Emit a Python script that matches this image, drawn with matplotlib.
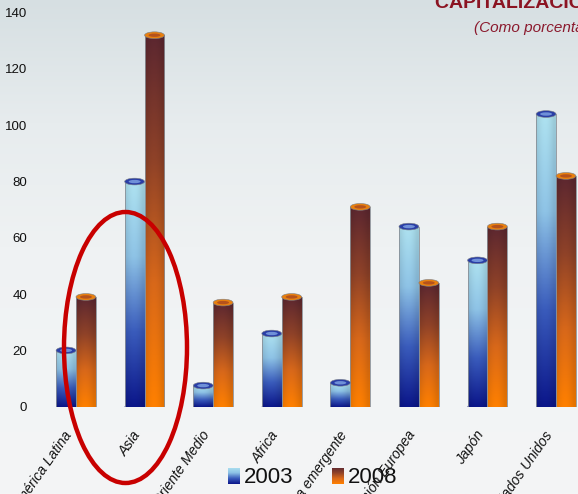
import numpy as np
import matplotlib
matplotlib.use("Agg")
import matplotlib.pyplot as plt
from matplotlib.colors import LinearSegmentedColormap
from matplotlib.patches import Ellipse, Rectangle
from matplotlib.transforms import ScaledTranslation

regions = ["América Latina", "Asia", "Oriente Medio", "Africa",
           "Europa emergente", "Unión Europea", "Japón", "Estados Unidos"]
values_2003 = [20, 80, 7.5, 26, 8.5, 64, 52, 104]
values_2008 = [39, 132, 37, 39, 71, 44, 64, 82]
y_ticks = [0, 20, 40, 60, 80, 100, 120, 140]

plt.rcParams["font.family"] = ["Liberation Sans", "DejaVu Sans"]

W, H = 578, 494
fig = plt.figure(figsize=(W / 100, H / 100), dpi=100)

# background gradient
bg = fig.add_axes([0, 0, 1, 1], zorder=-10)
grad = np.linspace(0, 1, 256)[:, None]
bg_cmap = LinearSegmentedColormap.from_list(
    "bg", ["#d6dfe2", "#e7ecee", "#eff2f3", "#f2f4f5", "#f4f5f6"])
bg.imshow(grad, aspect="auto", cmap=bg_cmap, extent=[0, 1, 0, 1])
bg.axis("off")

cmap_2003 = LinearSegmentedColormap.from_list("c03", ["#0b168a", "#3a5cbc", "#8ec3e6", "#aee2f0"])
cmap_2008 = LinearSegmentedColormap.from_list("c08", ["#ff8000", "#d8681a", "#8f4228", "#5c2730"])

ax = fig.add_axes([41.7 / W, 87.3 / H, 548.6 / W, 394 / H])
ax.set_xlim(-0.5, 7.5)
ax.set_ylim(0, 140)
ax.patch.set_alpha(0)
for s in ax.spines.values():
    s.set_visible(False)

bw = 0.29
cap_h = 2.4
x = np.arange(len(regions))


def cylinder(x0, h, cmap, rim, inner):
    rect = Rectangle((x0, 0), bw, h, facecolor="none", edgecolor="none")
    ax.add_patch(rect)
    v = np.linspace(0, 1, 200)[:, None]
    rgb = cmap(v)[:, :, :3]
    t = np.linspace(0, 1, 40)[None, :]
    shade = 0.9 + 0.1 * np.sin(np.pi * np.clip(t * 1.1, 0, 1))
    img = rgb * shade[:, :, None]
    im = ax.imshow(img[::-1], extent=[x0, x0 + bw, 0, h], aspect="auto",
                   origin="upper", zorder=2)
    im.set_clip_path(rect)
    # rounded bottom
    ax.add_patch(Ellipse((x0 + bw / 2, 0), bw, cap_h, facecolor=cmap(0.0),
                         edgecolor="none", zorder=1.9))
    ax.plot([x0, x0], [0, h], color="#8a8f96", lw=0.6, zorder=3)
    ax.plot([x0 + bw, x0 + bw], [0, h], color="#8a8f96", lw=0.6, zorder=3)
    ax.add_patch(Ellipse((x0 + bw / 2, h), bw, cap_h, facecolor=rim,
                         edgecolor="#7a7f88", lw=0.4, zorder=4))
    ax.add_patch(Ellipse((x0 + bw / 2, h), bw * 0.6, cap_h * 0.5,
                         facecolor=inner, edgecolor="none", zorder=5))


for i in range(len(regions)):
    cylinder(x[i] - bw, values_2003[i], cmap_2003, "#2a3ea6", "#6f90d8")
    cylinder(x[i], values_2008[i], cmap_2008, "#e8800f", "#b5521c")

ax.set_yticks(y_ticks)
ax.set_yticklabels([str(v) for v in y_ticks], fontsize=9.5, color="#111111")
ax.tick_params(axis="y", length=0, pad=10.5)
ax.set_xticks(x)
ax.set_xticklabels(regions, rotation=55, ha="right", rotation_mode="anchor",
                   fontstyle="italic", fontsize=10, color="#111111")
ax.tick_params(axis="x", length=0, pad=17)
shift = ScaledTranslation(-12 / 100, 2 / 100, fig.dpi_scale_trans)
for lab in ax.get_xticklabels():
    lab.set_transform(lab.get_transform() + shift)

# red highlight around Asia
fig.add_artist(Ellipse((125.5 / W, 1 - 347.5 / H), 123 / W, 271 / H,
                       transform=fig.transFigure, facecolor="none",
                       edgecolor="#c80000", lw=3.2, zorder=20))

# legend
legend_items = [("2003", cmap_2003, 228), ("2008", cmap_2008, 332)]
for label, cmap, px in legend_items:
    iax = fig.add_axes([px / W, 1 - 484 / H, 12 / W, 16 / H])
    iax.imshow(np.linspace(1, 0, 64)[:, None], aspect="auto", cmap=cmap)
    iax.axis("off")
    fig.text((px + 16) / W, 1 - 477 / H, label, fontsize=16, va="center",
             ha="left", color="#111111")

# title (cut at the edges as in the source slide)
fig.text(435 / W, 1 - 8 / H, "CAPITALIZACIÓN BURSÁTIL", fontsize=14,
         fontweight="bold", color="#8b1422", va="baseline", ha="left")
fig.text(474 / W, 1 - 32 / H, "(Como porcentaje del PIB)", fontsize=11,
         fontstyle="italic", color="#8b1a2e", va="baseline", ha="left")

fig.savefig("out.png", dpi=100)
